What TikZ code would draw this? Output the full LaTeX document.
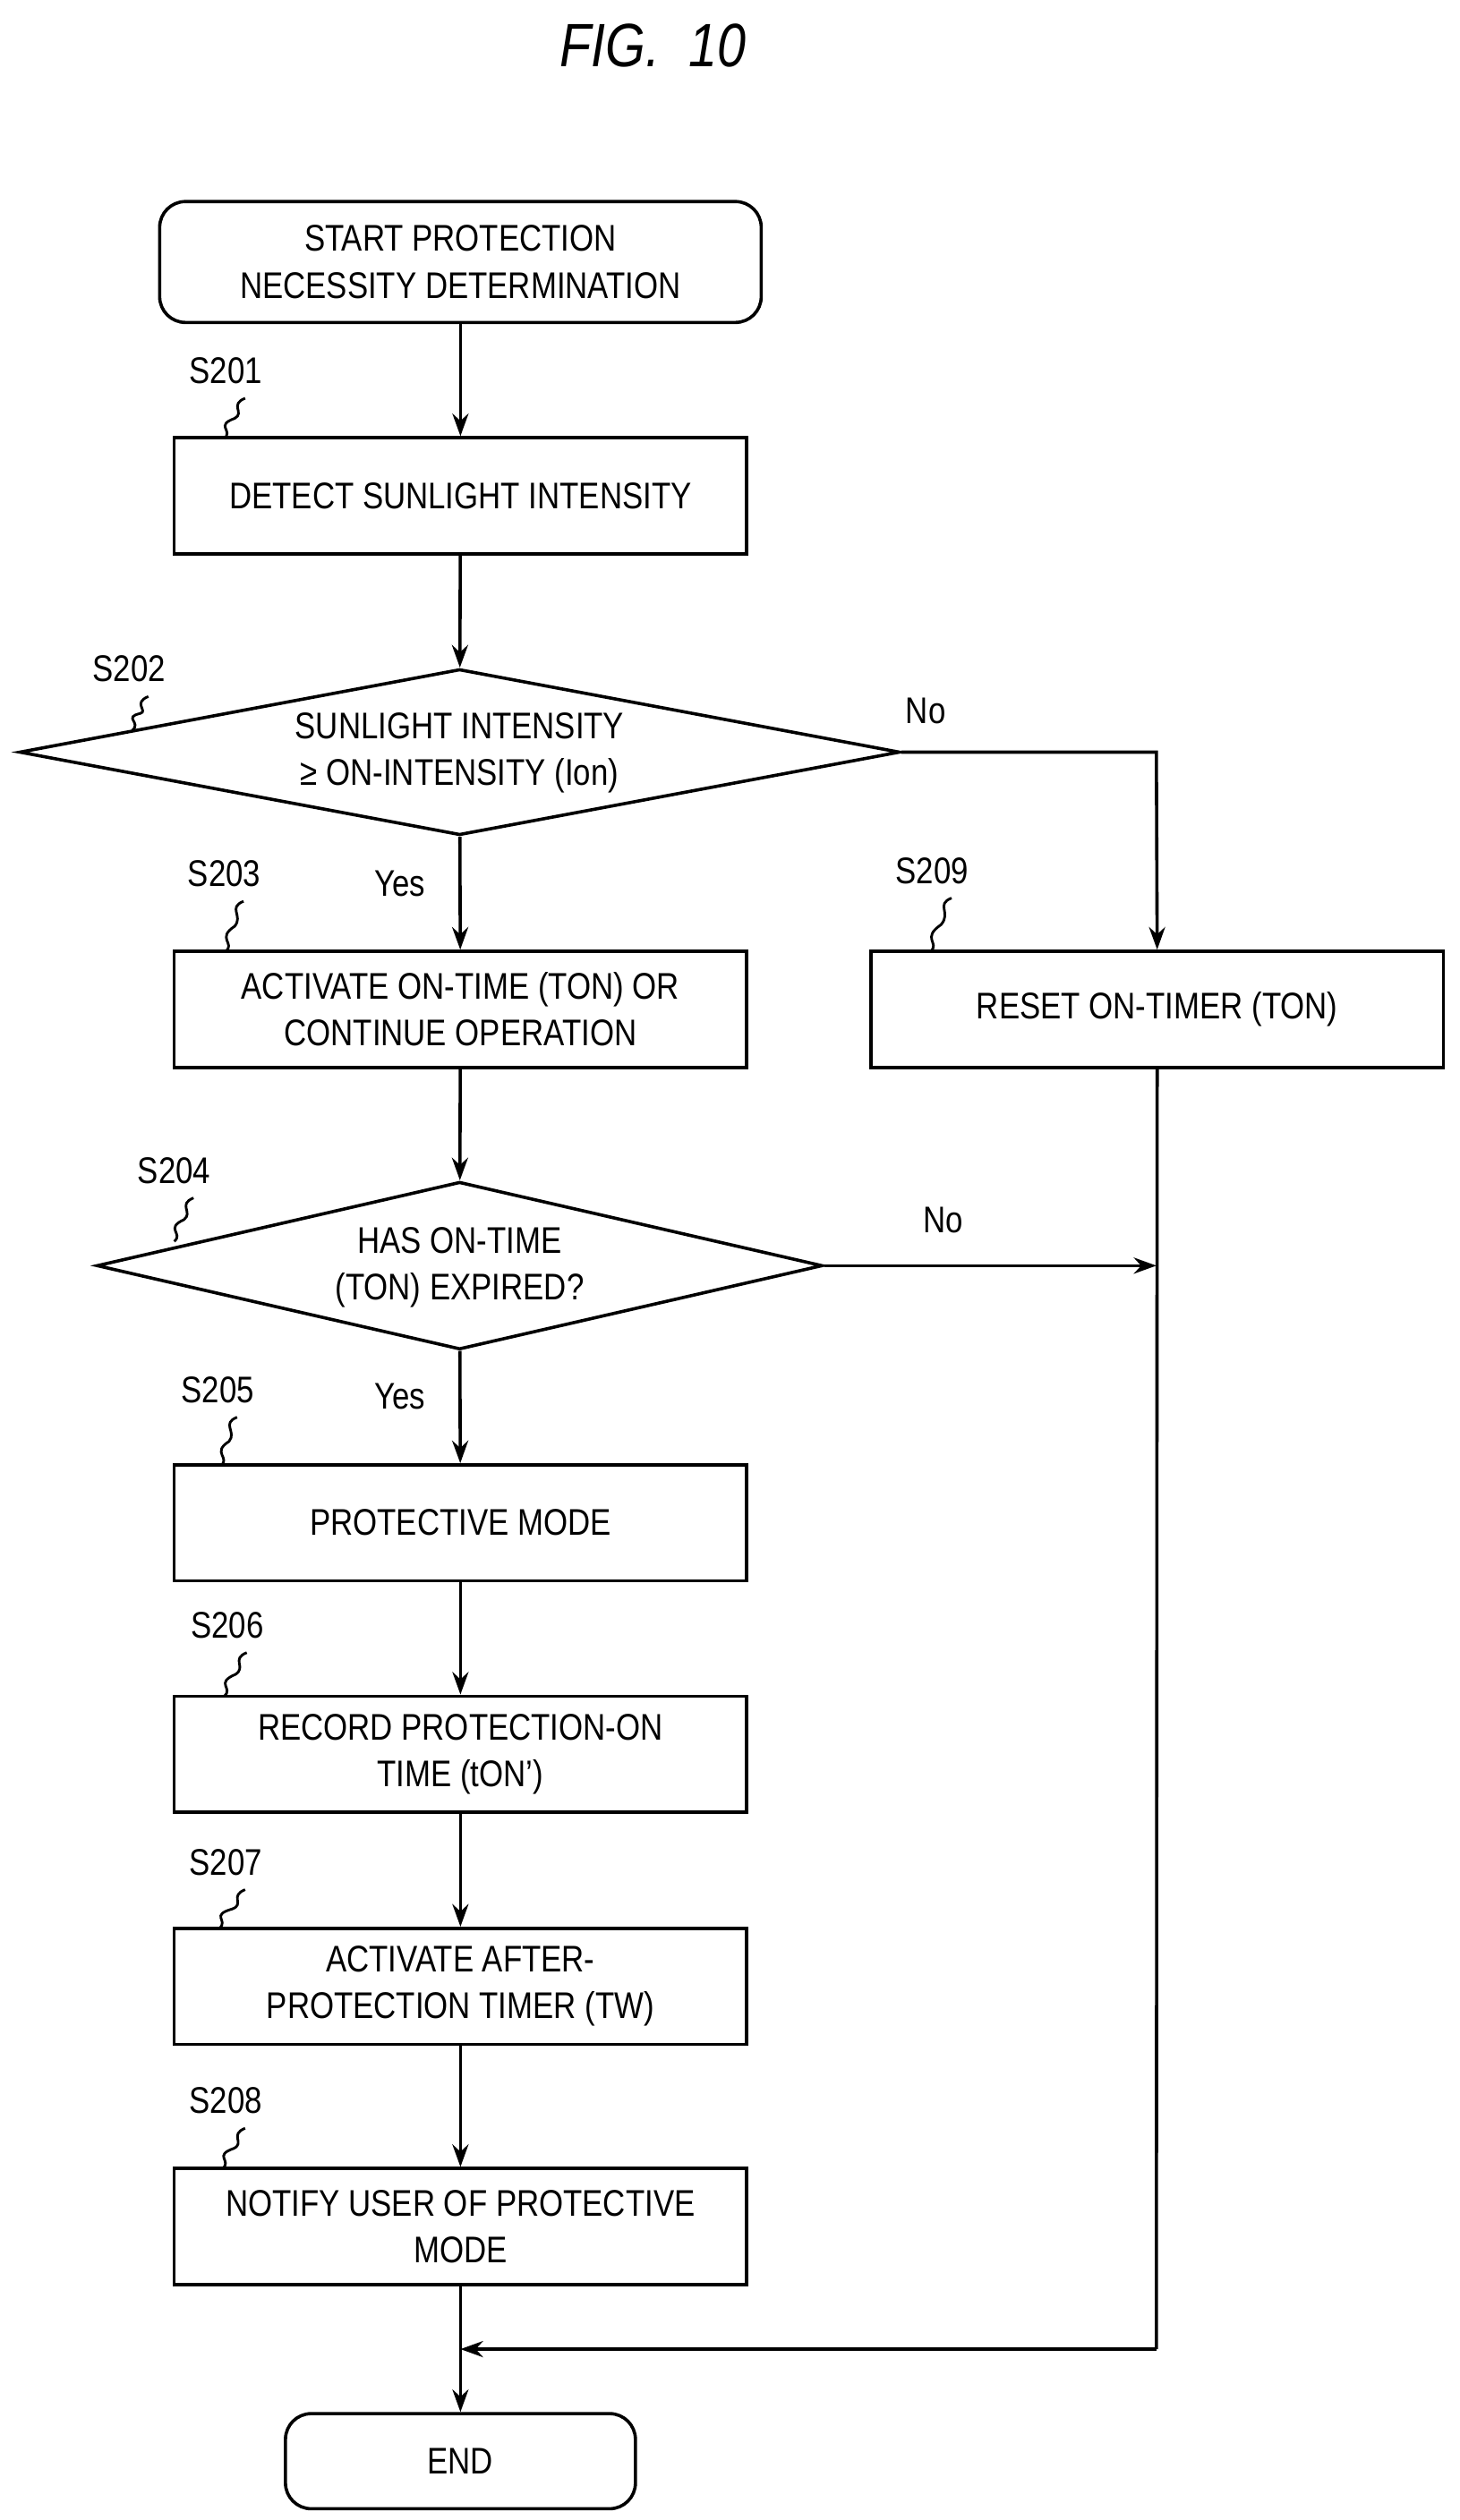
\documentclass[tikz,border=0pt]{standalone}
\usepackage{fontspec}
\setmainfont[FakeStretch=0.84]{Liberation Sans}
\usetikzlibrary{shapes.geometric,arrows.meta,calc}
\begin{document}
\begin{tikzpicture}[x=0.5pt,y=-0.5pt,
  every node/.style={font=\fontsize{11.5}{14.5}\selectfont},
  box/.style={draw,line width=1pt,minimum width=177.5pt,minimum height=36pt,align=center,inner sep=0pt},
  term/.style={box,rounded corners=8pt},
  dia/.style={draw,line width=1pt,diamond,aspect=5.3,inner sep=0pt,align=center},
  txt/.style={align=center},
  ln/.style={line width=1pt},
  ar/.style={ln,-{Stealth[length=7pt,width=5pt]}},
  sq/.style={line width=0.8pt},
  lab/.style={font=\fontsize{11.5}{13}\selectfont}]
\useasboundingbox (0,0) rectangle (905,1563);
\node[font=\fontsize{19}{22}\selectfont\itshape] (title) at (405,28) {FIG.\ \ 10};
\node[term,minimum width=186.5pt,minimum height=37.5pt] (start) at (285.5,162.5) {START PROTECTION\\NECESSITY DETERMINATION};
\node[box] (s201) at (285.5,307.5) {DETECT SUNLIGHT INTENSITY};
\node[dia,minimum width=273pt,minimum height=51.5pt] (s202) at (285,466.5) {};
\node[txt] (t202) at (285,467) {SUNLIGHT INTENSITY\\≥ ON-INTENSITY (Ion)};
\node[box] (s203) at (285.5,626) {ACTIVATE ON-TIME (TON) OR\\CONTINUE OPERATION};
\node[box] (s209) at (717.5,626) {RESET ON-TIMER (TON)};
\node[dia,minimum width=225pt,minimum height=52pt] (s204) at (285,785) {};
\node[txt] (t204) at (285,786) {HAS ON-TIME\\(TON) EXPIRED?};
\node[box] (s205) at (285.5,944.5) {PROTECTIVE MODE};
\node[box] (s206) at (285.5,1088) {RECORD PROTECTION-ON\\TIME (tON')};
\node[box] (s207) at (285.5,1232) {ACTIVATE AFTER-\\PROTECTION TIMER (TW)};
\node[box] (s208) at (285.5,1381) {NOTIFY USER OF PROTECTIVE\\MODE};
\node[term,minimum width=108.5pt,minimum height=29.5pt] (end) at (285.5,1526.5) {END};
\coordinate (r1) at (717,466.5);
\coordinate (j1) at (717,785);
\coordinate (c1) at (717,1457);
\coordinate (m1) at (285.5,1457);
\draw[ar] (start) -- (s201);
\draw[ar] (s201) -- (s202);
\draw[ar] (s202) -- (s203);
\draw[ar] (s203) -- (s204);
\draw[ar] (s204) -- (s205);
\draw[ar] (s205) -- (s206);
\draw[ar] (s206) -- (s207);
\draw[ar] (s207) -- (s208);
\draw[ar] (s208) -- (end);
\draw[ar] (s202.east) -- (r1) -- (s209.north);
\draw[ar] (s204.east) -- (j1);
\draw[ln] (s209.south) -- (c1);
\draw[ar] (c1) -- (m1);
\node[lab] (no1) at (574,441) {No};
\node[lab] (no2) at (585,757) {No};
\node[lab] (y1) at (248,548) {Yes};
\node[lab] (y2) at (248,866) {Yes};
\foreach \n/\x/\y/\ex/\ey in {S201/140/230/139/272,S202/80/415/82/453,S203/139/542/140/590,S209/578/540/577/590,S204/108/726/108/770,S205/135/862/137/909,S206/141/1008/139/1052,S207/140/1155/136/1196,S208/140/1303/138/1345}{
  \node[lab] (l\n) at (\x,\y) {\n};
  \draw[sq] (\x+12,\y+17) .. controls (\x+2,\y+21) and (\x+12,\y+26) .. ($(\x+12,\y+17)!0.5!(\ex,\ey)$) .. controls ($(\ex,\ey)+(-6,-8)$) and ($(\ex,\ey)+(6,-5)$) .. (\ex,\ey);
}
\end{tikzpicture}
\end{document}
